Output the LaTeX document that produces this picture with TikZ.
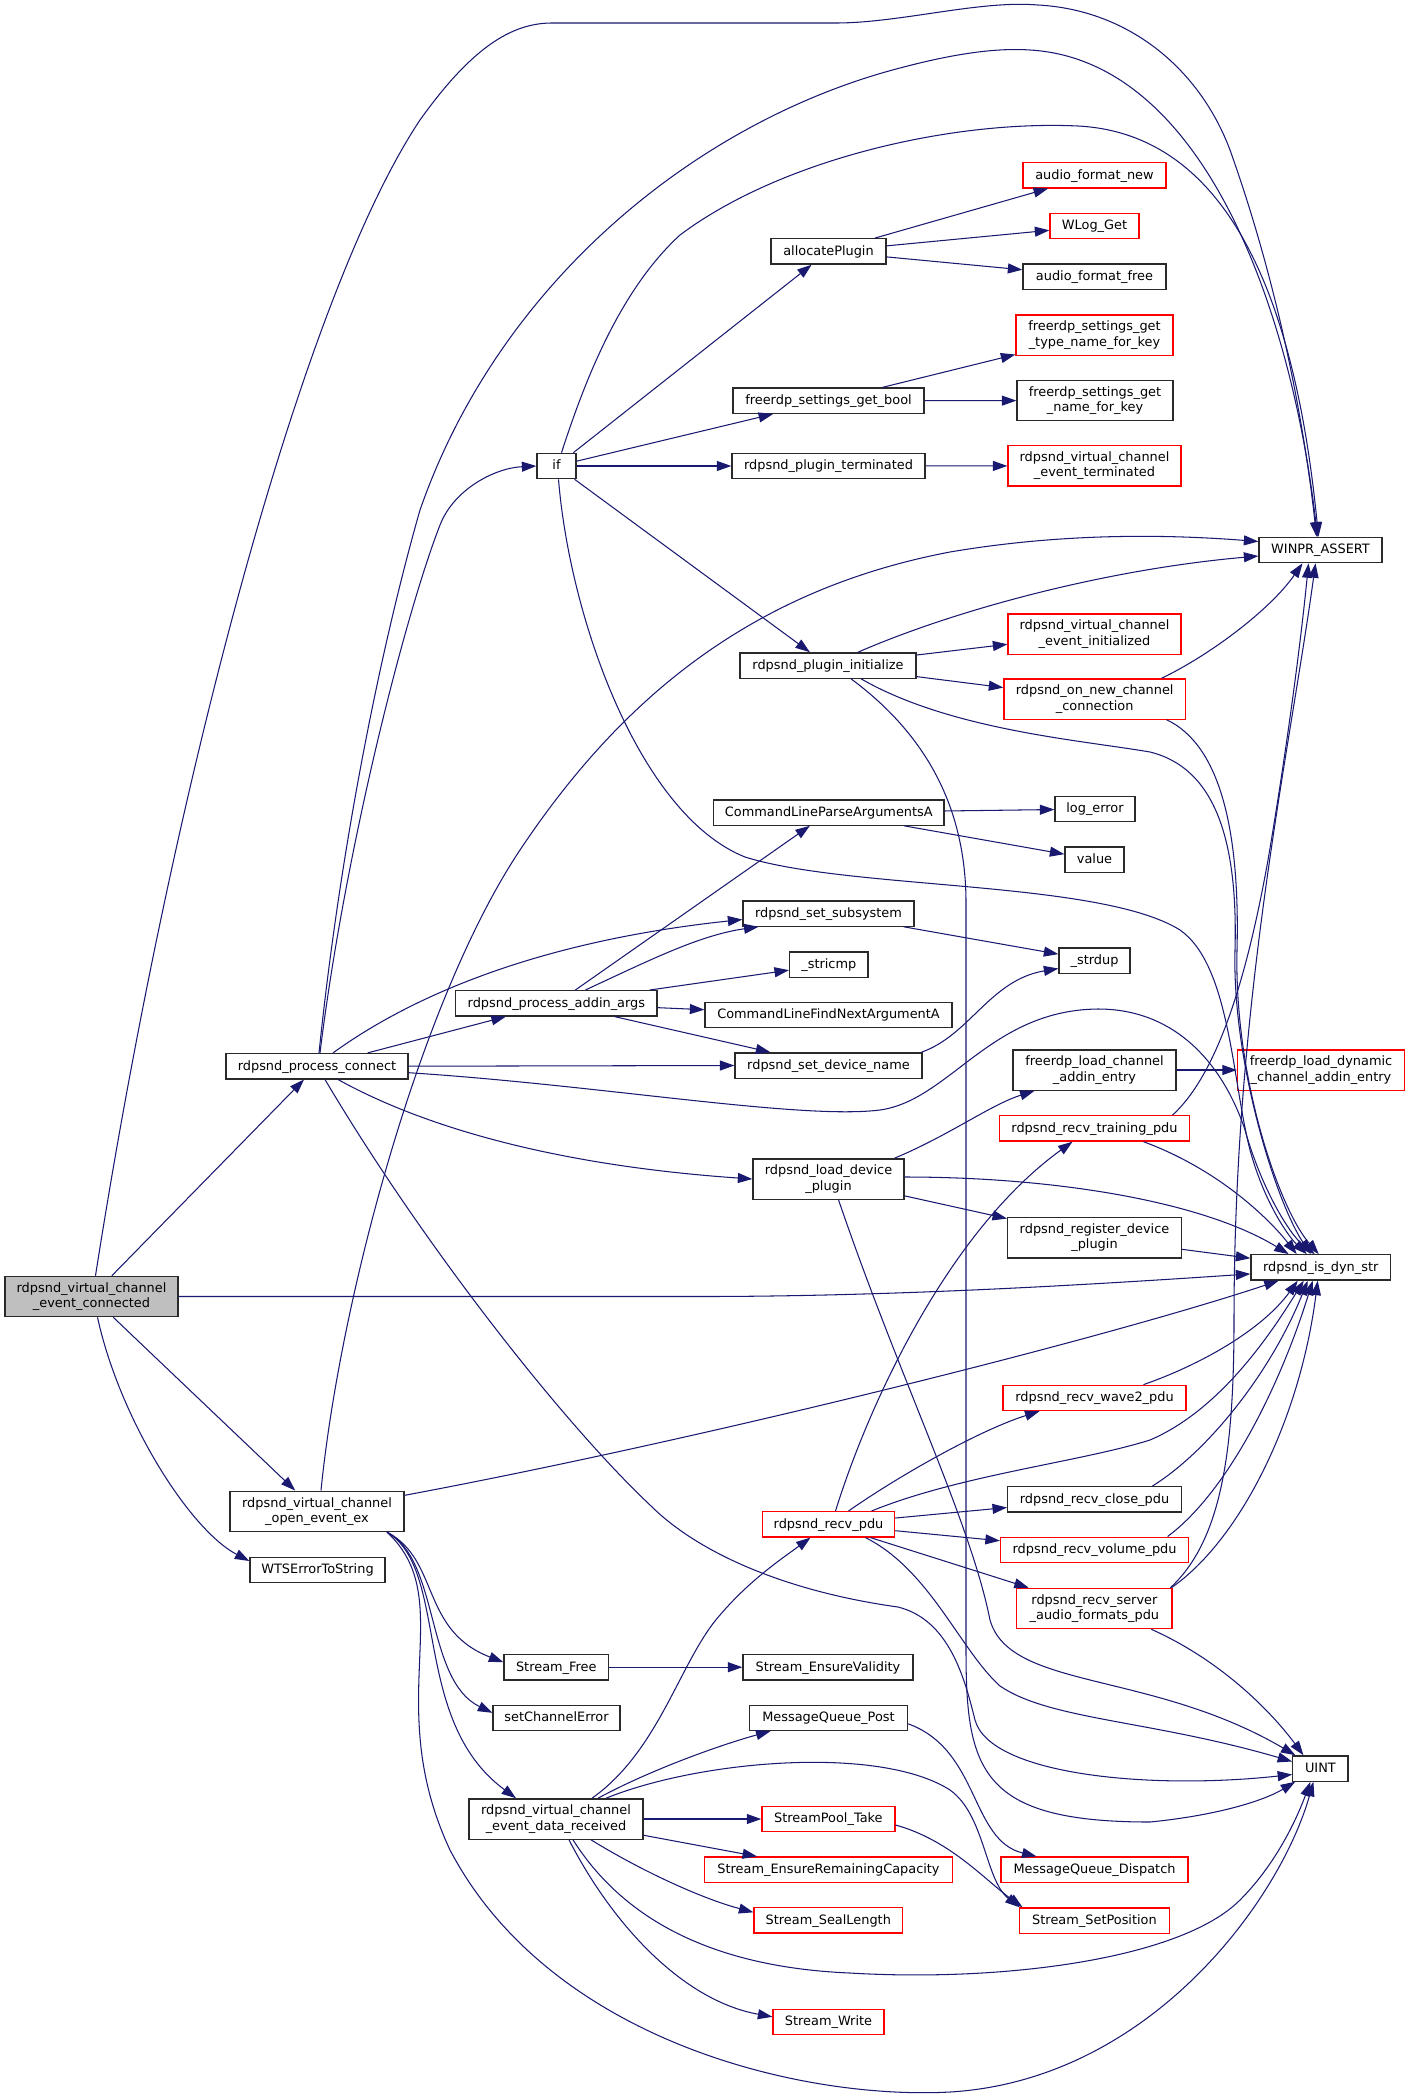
\documentclass[tikz,border=0pt]{standalone}
\usepackage{fontspec}
\usepackage{tikz}
\usetikzlibrary{arrows.meta}
\newfontfamily\dejavu{DejaVu Sans}
\newcommand\graphfont{\dejavu\fontsize{12.9}{15.3}\selectfont}
\definecolor{edgeblue}{HTML}{191970}
\definecolor{boxline}{HTML}{2A2A2A}
\definecolor{rootfill}{HTML}{BFBFBF}
\definecolor{truncred}{HTML}{FF0000}
\tikzset{
  fn/.style={draw=boxline, fill=white, line width=1.3pt, inner sep=0pt, minimum height=25.3pt, text height=10pt, text depth=2.2pt, font=\graphfont},
  fnn/.style={draw=boxline, fill=white, line width=1.3pt, inner sep=0pt, minimum height=40.3pt, align=center, font=\graphfont},
  trunc/.style={draw=truncred},
  root/.style={fill=rootfill},
  call/.style={draw=edgeblue, line width=1.05pt, -{Triangle[length=14.5pt,width=10pt]}}
}
\begin{document}
\begin{tikzpicture}[x=1pt,y=-1pt]
	\useasboundingbox (0,0) rectangle (1409,2098);
	\node[fnn, root, minimum width=173] (main) at (91.5,1296.5) {rdpsnd\_virtual\_channel\\\_event\_connected};
	\node[fn, minimum width=182] (pc) at (317,1066.2) {rdpsnd\_process\_connect};
	\node[fnn, minimum width=174] (oe) at (317,1511.3) {rdpsnd\_virtual\_channel\\\_open\_event\_ex};
	\node[fn, minimum width=135] (wts) at (317.5,1570) {WTSErrorToString};
	\node[fn, minimum width=39] (ifnode) at (556.5,466) {if};
	\node[fn, minimum width=201.3] (pad) at (556.4,1003.3) {rdpsnd\_process\_addin\_args};
	\node[fn, minimum width=104.6] (sfree) at (556.3,1667.2) {Stream\_Free};
	\node[fn, minimum width=127] (sce) at (556.5,1717.8) {setChannelError};
	\node[fnn, minimum width=174] (vdr) at (556,1819) {rdpsnd\_virtual\_channel\\\_event\_data\_received};
	\node[fn, minimum width=115] (alloc) at (828.5,251.4) {allocatePlugin};
	\node[fn, minimum width=191] (sgb) at (828.5,400.7) {freerdp\_settings\_get\_bool};
	\node[fn, minimum width=193] (ptm) at (828.5,466) {rdpsnd\_plugin\_terminated};
	\node[fn, minimum width=176] (pin) at (828,665.5) {rdpsnd\_plugin\_initialize};
	\node[fn, minimum width=230.4] (clpa) at (828.8,812.5) {CommandLineParseArgumentsA};
	\node[fn, minimum width=171] (sss) at (828.5,913.5) {rdpsnd\_set\_subsystem};
	\node[fn, minimum width=78.4] (stricmp) at (828.8,964.5) {\_stricmp};
	\node[fn, minimum width=247] (clfn) at (828.5,1015) {CommandLineFindNextArgumentA};
	\node[fn, minimum width=187] (sdn) at (828.5,1065.5) {rdpsnd\_set\_device\_name};
	\node[fnn, minimum width=151] (ldp) at (828.5,1179) {rdpsnd\_load\_device\\\_plugin};
	\node[fn, trunc, minimum width=132.2] (rpdu) at (828.5,1524.3) {rdpsnd\_recv\_pdu};
	\node[fn, minimum width=170] (sev) at (828,1667.2) {Stream\_EnsureValidity};
	\node[fn, minimum width=158] (mqp) at (828.5,1717.8) {MessageQueue\_Post};
	\node[fn, trunc, minimum width=133] (spt) at (828.4,1819) {StreamPool\_Take};
	\node[fn, trunc, minimum width=248] (serc) at (828.5,1869.7) {Stream\_EnsureRemainingCapacity};
	\node[fn, trunc, minimum width=148.5] (ssl) at (828.3,1920.3) {Stream\_SealLength};
	\node[fn, trunc, minimum width=111] (sw) at (828.5,2021.8) {Stream\_Write};
	\node[fn, trunc, minimum width=143] (afn) at (1094.5,175.2) {audio\_format\_new};
	\node[fn, trunc, minimum width=89] (wlog) at (1094.5,226) {WLog\_Get};
	\node[fn, minimum width=143] (aff) at (1094.5,276.6) {audio\_format\_free};
	\node[fnn, trunc, minimum width=157] (tnk) at (1094.5,335) {freerdp\_settings\_get\\\_type\_name\_for\_key};
	\node[fnn, minimum width=156] (nfk) at (1095,400.6) {freerdp\_settings\_get\\\_name\_for\_key};
	\node[fnn, trunc, minimum width=173] (vet) at (1094.5,465.9) {rdpsnd\_virtual\_channel\\\_event\_terminated};
	\node[fnn, trunc, minimum width=173] (vei) at (1094.5,634) {rdpsnd\_virtual\_channel\\\_event\_initialized};
	\node[fnn, trunc, minimum width=181.5] (onc) at (1094.7,699) {rdpsnd\_on\_new\_channel\\\_connection};
	\node[fn, minimum width=80] (loge) at (1095,809) {log\_error};
	\node[fn, minimum width=59] (value) at (1094.5,859.5) {value};
	\node[fn, minimum width=71] (strdup) at (1094.5,960.5) {\_strdup};
	\node[fnn, minimum width=163] (flc) at (1094.5,1070) {freerdp\_load\_channel\\\_addin\_entry};
	\node[fn, trunc, minimum width=190] (rtp) at (1094.5,1128.4) {rdpsnd\_recv\_training\_pdu};
	\node[fnn, minimum width=173.7] (rdp) at (1094.5,1237.9) {rdpsnd\_register\_device\\\_plugin};
	\node[fn, trunc, minimum width=183] (rwv) at (1094.5,1397.9) {rdpsnd\_recv\_wave2\_pdu};
	\node[fn, minimum width=173.7] (rcl) at (1094.5,1499.3) {rdpsnd\_recv\_close\_pdu};
	\node[fn, trunc, minimum width=188.2] (rvol) at (1094.6,1549.8) {rdpsnd\_recv\_volume\_pdu};
	\node[fnn, trunc, minimum width=155.2] (rsaf) at (1094.4,1608.5) {rdpsnd\_recv\_server\\\_audio\_formats\_pdu};
	\node[fn, trunc, minimum width=187] (mqd) at (1094.5,1869.7) {MessageQueue\_Dispatch};
	\node[fn, trunc, minimum width=149.7] (ssp) at (1094.5,1920.5) {Stream\_SetPosition};
	\node[fn, minimum width=123] (winpr) at (1320.5,550) {WINPR\_ASSERT};
	\node[fnn, trunc, minimum width=167] (fld) at (1321,1070) {freerdp\_load\_dynamic\\\_channel\_addin\_entry};
	\node[fn, minimum width=139.5] (ids) at (1320.7,1267.4) {rdpsnd\_is\_dyn\_str};
	\node[fn, minimum width=55.2] (uint) at (1320.4,1768.5) {UINT};

	\draw[call] (main) -- (pc);
	\draw[call] (main) -- (oe);
	\draw[call] ([xshift=6]main.south) .. controls (120,1420) and (190,1530) .. ([yshift=9]wts.west);
	\draw[call] (main.east) -- (700,1296.5) .. controls (900,1296.5) and (1100,1284) .. ([yshift=-6.5]ids.west);
	\draw[call] ([xshift=4]main.north) .. controls (170,800) and (300,300) .. (420,120) .. controls (470,50) and (510,23) .. (552,23) -- (836,23) .. controls (900,23) and (980,0) .. (1038,5) .. controls (1130,10) and (1200,70) .. (1230,150) .. controls (1280,290) and (1305,430) .. ([xshift=-4]winpr.north);

	\draw[call] ([xshift=2]pc.north) .. controls (340,850) and (380,650) .. (420,510) .. controls (500,280) and (700,120) .. (900,68) .. controls (960,52) and (1000,48) .. (1030,50) .. controls (1200,60) and (1290,300) .. ([xshift=-3]winpr.north);
	\draw[call] ([xshift=3]pc.north) .. controls (345,850) and (405,615) .. (440,525) .. controls (454,489) and (495,468) .. (ifnode.west);
	\draw[call] (pc) -- (pad);
	\draw[call] ([xshift=16]pc.north) .. controls (420,990) and (550,940) .. ([yshift=-6]sss.west);
	\draw[call] (pc.east) -- (sdn.west);
	\draw[call] ([xshift=21]pc.south) .. controls (420,1125) and (550,1165) .. (ldp.west);
	\draw[call] ([yshift=-6.5]pc.east) .. controls (600,1085) and (800,1120) .. (880,1110) .. controls (950,1100) and (990,1010) .. (1098,1009) .. controls (1180,1009) and (1225,1070) .. (1245,1130) .. controls (1262,1190) and (1290,1235) .. ([xshift=-6]ids.north);
	\draw[call] ([xshift=8]pc.south) .. controls (420,1240) and (560,1420) .. (650,1505) .. controls (700,1555) and (790,1592) .. (898,1607) .. controls (950,1620) and (965,1680) .. (975,1720) .. controls (990,1775) and (1150,1790) .. ([yshift=-6]uint.west);

	\draw[call] (ifnode) -- (alloc);
	\draw[call] (ifnode) -- (sgb);
	\draw[call] (ifnode) -- (ptm);
	\draw[call] (ifnode) -- (pin);
	\draw[call] ([xshift=5]ifnode.north) .. controls (585,380) and (620,290) .. (680,235) .. controls (780,160) and (950,120) .. (1078,126) .. controls (1250,135) and (1300,350) .. ([xshift=-2]winpr.north);
	\draw[call] ([xshift=2]ifnode.south) .. controls (570,620) and (640,815) .. (745,857) .. controls (850,890) and (1100,880) .. (1180,930) .. controls (1230,965) and (1232,1080) .. (1250,1150) .. controls (1265,1205) and (1290,1238) .. ([xshift=-14]ids.north);

	\draw[call] (alloc) -- (afn);
	\draw[call] (alloc) -- (wlog);
	\draw[call] (alloc) -- (aff);
	\draw[call] (sgb) -- (tnk);
	\draw[call] (sgb) -- (nfk);
	\draw[call] (ptm) -- (vet);

	\draw[call] ([xshift=30]pin.north) .. controls (950,612) and (1100,570) .. ([yshift=-6]winpr.west);
	\draw[call] (pin) -- (vei);
	\draw[call] (pin) -- (onc);
	\draw[call] ([xshift=33]pin.south) .. controls (950,730) and (1080,740) .. (1150,752) .. controls (1215,768) and (1238,840) .. (1235,950) .. controls (1232,1060) and (1275,1200) .. ([xshift=-10]ids.north);
	\draw[call] ([xshift=23]pin.south) .. controls (920,730) and (965,800) .. (966,900) -- (966,1650) .. controls (966,1770) and (980,1822) .. (1150,1822) .. controls (1220,1815) and (1265,1800) .. ([xshift=3]uint.south west);

	\draw[call] ([xshift=67]onc.north) .. controls (1210,655) and (1270,610) .. ([xshift=-18]winpr.south);
	\draw[call] ([xshift=72]onc.south) .. controls (1220,745) and (1240,830) .. (1237,950) .. controls (1234,1080) and (1280,1210) .. ([xshift=-2]ids.north);

	\draw[call] (clpa) -- (loge);
	\draw[call] (clpa) -- (value);
	\draw[call] (sss) -- (strdup);
	\draw[call] ([xshift=93]sdn.north) .. controls (970,1035) and (990,980) .. ([yshift=-8]strdup.west);
	\draw[call] (pad) -- (clpa);
	\draw[call] ([xshift=29]pad.north) .. controls (650,960) and (700,935) .. ([xshift=-70]sss.south);
	\draw[call] (pad) -- (stricmp);
	\draw[call] (pad) -- (clfn);
	\draw[call] (pad) -- (sdn);

	\draw[call] ([xshift=66]ldp.north) .. controls (950,1135) and (990,1105) .. ([xshift=-60]flc.south);
	\draw[call] (flc) -- (fld);
	\draw[call] (ldp) -- (rdp);
	\draw[call] ([yshift=2]ldp.east) .. controls (1050,1177) and (1200,1200) .. ([xshift=-32]ids.north);
	\draw[call] ([xshift=10]ldp.south) .. controls (900,1380) and (970,1520) .. (990,1620) .. controls (1010,1690) and (1150,1670) .. ([xshift=-25]uint.north);

	\draw[call] ([xshift=78]rtp.north) .. controls (1222,1070) and (1250,960) .. (1268,860) .. controls (1285,760) and (1300,650) .. ([xshift=-12]winpr.south);
	\draw[call] ([xshift=49]rtp.south) .. controls (1220,1170) and (1270,1220) .. ([xshift=-24]ids.north);
	\draw[call] (rdp) -- (ids);

	\draw[call] ([xshift=7]rpdu.north) .. controls (870,1400) and (950,1230) .. ([xshift=-22]rtp.south);
	\draw[call] ([xshift=20]rpdu.north) .. controls (900,1475) and (980,1430) .. ([xshift=-55]rwv.south);
	\draw[call] ([xshift=43]rpdu.north) .. controls (960,1475) and (1080,1462) .. (1150,1440) .. controls (1220,1410) and (1270,1335) .. ([xshift=-17]ids.south);
	\draw[call] (rpdu) -- (rcl);
	\draw[call] (rpdu) -- (rvol);
	\draw[call] (rpdu) -- (rsaf);
	\draw[call] ([xshift=37]rpdu.south) .. controls (930,1570) and (960,1650) .. (1000,1686) .. controls (1050,1720) and (1150,1720) .. ([yshift=7]uint.west);

	\draw[call] ([xshift=49]rwv.north) .. controls (1200,1365) and (1262,1330) .. ([xshift=-23]ids.south);
	\draw[call] ([xshift=58]rcl.north) .. controls (1210,1450) and (1272,1370) .. ([xshift=-13]ids.south);
	\draw[call] ([xshift=73]rvol.north) .. controls (1230,1490) and (1282,1380) .. ([xshift=-8]ids.south);
	\draw[call] ([xshift=77]rsaf.north) .. controls (1240,1540) and (1300,1420) .. ([xshift=-3]ids.south);
	\draw[call] ([xshift=76]rsaf.north) .. controls (1222,1540) and (1234,1450) .. (1234,1320) .. controls (1234,1000) and (1290,750) .. ([xshift=-5]winpr.south);
	\draw[call] ([xshift=57]rsaf.south) .. controls (1220,1660) and (1270,1710) .. ([xshift=-17]uint.north);

	\draw[call] ([xshift=4]oe.north) .. controls (340,1300) and (420,1000) .. (520,850) .. controls (620,700) and (750,590) .. (950,552) .. controls (1050,535) and (1150,533) .. ([yshift=8.5]winpr.west);
	\draw[call] ([yshift=16]oe.east) .. controls (700,1440) and (1100,1340) .. ([xshift=-42]ids.south);
	\draw[call] ([xshift=70]oe.south) .. controls (440,1560) and (420,1630) .. ([yshift=5]sfree.west);
	\draw[call] ([xshift=70]oe.south) .. controls (440,1560) and (425,1680) .. ([yshift=5]sce.west);
	\draw[call] ([xshift=70]oe.south) .. controls (450,1570) and (410,1720) .. ([xshift=-40]vdr.north);
	\draw[call] ([xshift=70]oe.south) .. controls (460,1600) and (380,1700) .. (450,1850) .. controls (550,2040) and (800,2100) .. (950,2092) .. controls (1150,2080) and (1280,1900) .. ([xshift=-7]uint.south);

	\draw[call] ([xshift=36]vdr.north) .. controls (660,1750) and (680,1660) .. (720,1615) .. controls (750,1580) and (780,1560) .. ([xshift=-18]rpdu.south);
	\draw[call] ([xshift=42]vdr.north) .. controls (650,1770) and (720,1745) .. ([xshift=-58]mqp.south);
	\draw[call] ([xshift=50]vdr.north) .. controls (700,1760) and (880,1745) .. (950,1790) .. controls (985,1815) and (985,1880) .. ([xshift=-75]ssp.north);
	\draw[call] (vdr) -- (spt);
	\draw[call] (vdr) -- (serc);
	\draw[call] ([xshift=35]vdr.south) .. controls (640,1870) and (700,1898) .. ([yshift=8]ssl.west);
	\draw[call] ([xshift=13]vdr.south) .. controls (610,1920) and (680,2000) .. ([yshift=5]sw.west);
	\draw[call] ([xshift=17]vdr.south) .. controls (630,1930) and (730,1968) .. (850,1973) .. controls (1000,1982) and (1180,1960) .. (1240,1900) .. controls (1280,1860) and (1300,1810) .. ([xshift=-10]uint.south);

	\draw[call] ([yshift=-6]mqp.east) .. controls (980,1750) and (970,1840) .. ([xshift=-58]mqd.north);
	\draw[call] ([yshift=-6]spt.east) .. controls (950,1840) and (985,1880) .. ([xshift=-72]ssp.north);
	\draw[call] (sfree) -- (sev);
\end{tikzpicture}
\end{document}
